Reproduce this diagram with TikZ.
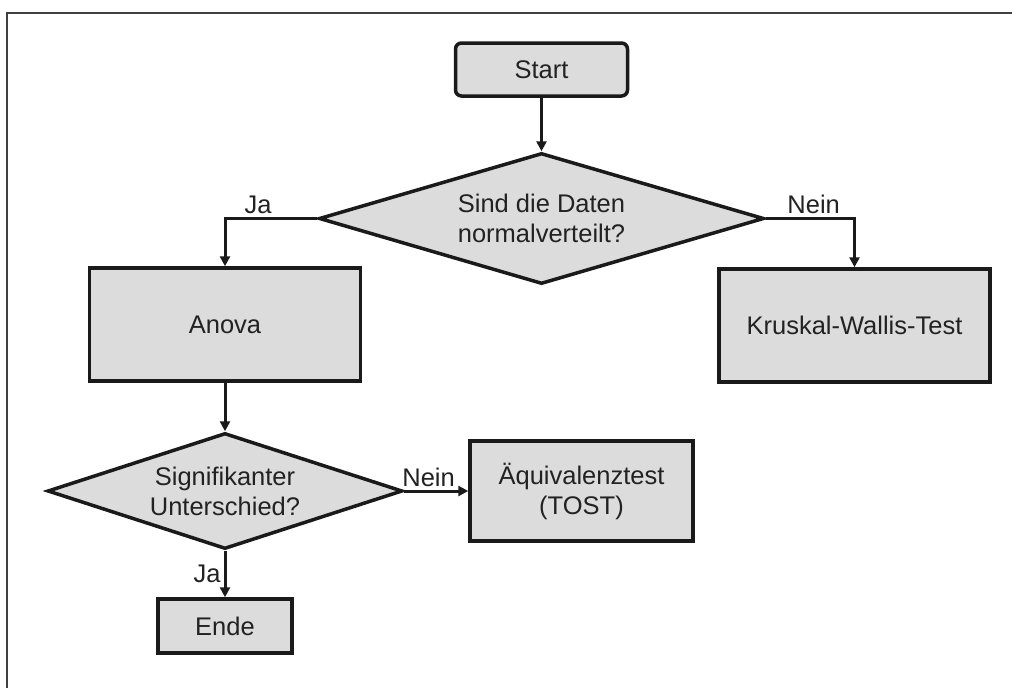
\documentclass[tikz,border=0pt]{standalone}
\usepackage{fontspec}
\setmainfont{Liberation Sans}
\usetikzlibrary{shapes.geometric,arrows.meta}
\definecolor{boxfill}{HTML}{DCDCDC}
\definecolor{ink}{HTML}{1A1A1A}
\definecolor{txt}{HTML}{222222}
\definecolor{framec}{HTML}{404040}
\tikzset{
  every node/.style={font=\fontsize{25.5}{30}\selectfont, text=txt},
  procbox/.style={draw=ink, line width=3.5pt, fill=boxfill, rectangle, inner sep=0pt, align=center},
  startbox/.style={procbox, rounded corners=6pt},
  decision/.style={draw=ink, line width=3.5pt, fill=boxfill, diamond, inner sep=0pt},
  dtext/.style={align=center, inner sep=0pt},
  conn/.style={draw=ink, line width=3pt, -{Triangle[length=10pt,width=10pt]}},
  lbl/.style={inner sep=3pt}
}
\begin{document}
\begin{tikzpicture}[x=1pt,y=-1pt]
\useasboundingbox (0,0) rectangle (1012,688);
\draw[draw=framec, line width=2.5pt] (7,688) -- (7,13) -- (1012,13);

\node[startbox, minimum width=172pt, minimum height=53pt] (start) at (541.5,69.5) {Start};
\node[decision, minimum width=445pt, minimum height=131pt,
      label={[dtext]center:Sind die Daten\\normalverteilt?}] (d1) at (541.5,218.5) {};
\node[procbox, minimum width=271pt, minimum height=113pt] (anova) at (225,324.5) {Anova};
\node[procbox, minimum width=271pt, minimum height=113pt] (kw) at (854.5,325.5) {Kruskal-Wallis-Test};
\node[decision, minimum width=355pt, minimum height=116pt,
      label={[dtext]center:Signifikanter\\Unterschied?}] (d2) at (225,491) {};
\node[procbox, minimum width=223pt, minimum height=100pt] (aeq) at (581.5,491) {Äquivalenztest\\(TOST)};
\node[procbox, minimum width=134pt, minimum height=54pt] (ende) at (225,626) {Ende};

\draw[conn] (start.south) -- (d1.north);
\draw[conn] (d1.west) -| node[lbl, above, pos=0.32] {Ja} (anova.north);
\draw[conn] (d1.east) -| node[lbl, above, pos=0.27] {Nein} (kw.north);
\draw[conn] (anova.south) -- (d2.north);
\draw[conn] (d2.east) -- node[lbl, above, pos=0.38] {Nein} (aeq.west);
\draw[conn] (d2.south) -- node[lbl, left, pos=0.5] {Ja} (ende.north);
\end{tikzpicture}
\end{document}
